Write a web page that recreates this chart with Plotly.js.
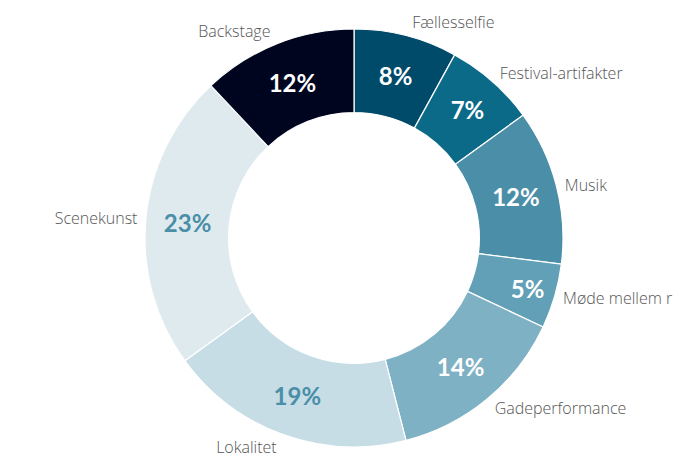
<!DOCTYPE html>
<html>
<head>
<meta charset="utf-8">
<script src="https://cdn.plot.ly/plotly-3.0.1.min.js"></script>
<style>html,body{margin:0;padding:0;background:#fff}#chart{width:694px;height:457px}</style>
</head>
<body>
<div id="chart"></div>
<script>
const categories = ["Fællesselfie", "Festival-artifakter", "Musik", "Møde mellem r", "Gadeperformance", "Lokalitet", "Scenekunst", "Backstage"];
const values = [8, 7, 12, 5, 14, 19, 23, 12];
const sliceColors = ["#004a6a", "#0b6a87", "#4a8ea8", "#62a0b7", "#7fb1c4", "#c6dde5", "#dfeaef", "#00051f"];
const pctColors = ["#ffffff", "#ffffff", "#ffffff", "#ffffff", "#ffffff", "#4a8ea8", "#4a8ea8", "#ffffff"];

// plot area centred at (354,238); inner ring radius 209, label ring radius RL
const W = 694, H = 457, CX = 354, CY = 238, RL = 212, RP = 209;
const plotW = 2 * RL, plotH = 2 * RL;
const ml = CX - RL, mt = CY - RL;
const pad = (RL - RP) / plotW;

const common = {
  type: 'pie',
  labels: categories,
  values: values,
  sort: false,
  direction: 'clockwise',
  rotation: 0,
  hoverinfo: 'skip',
  showlegend: false
};

const inner = Object.assign({}, common, {
  hole: 0.6,
  domain: {x: [pad, 1 - pad], y: [pad, 1 - pad]},
  marker: {colors: sliceColors, line: {color: '#ffffff', width: 1.2}},
  texttemplate: '%{percent:.0%}',
  textposition: 'inside',
  insidetextorientation: 'horizontal',
  textfont: {family: 'Lato, sans-serif', size: 24, weight: 'bold', color: pctColors}
});

const outer = Object.assign({}, common, {
  hole: 0.6,
  domain: {x: [0, 1], y: [0, 1]},
  marker: {colors: categories.map(() => 'rgba(0,0,0,0)'), line: {width: 0}},
  texttemplate: '%{label}',
  textposition: 'outside',
  textfont: {family: '"Open Sans", sans-serif', size: 16, weight: 300, color: '#555555'}
});

Plotly.newPlot('chart', [outer, inner], {
  width: W, height: H,
  margin: {l: ml, r: Math.max(0, W - ml - plotW), t: mt, b: Math.max(0, H - mt - plotH)},
  paper_bgcolor: '#ffffff',
  plot_bgcolor: '#ffffff'
}, {displayModeBar: false, staticPlot: true});
</script>
</body>
</html>
